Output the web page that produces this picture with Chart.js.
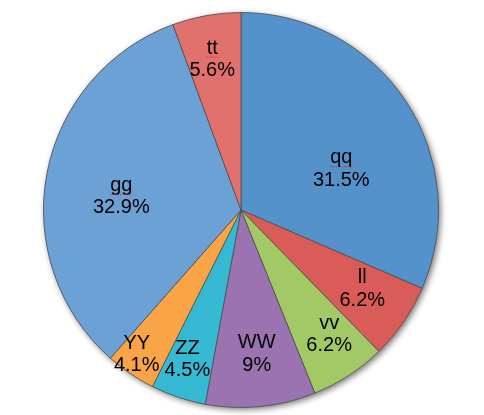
<!DOCTYPE html>
<html><head><meta charset="utf-8">
<script src="https://cdn.jsdelivr.net/npm/chart.js@4/dist/chart.umd.min.js"></script>
<style>html,body{margin:0;padding:0;background:#fff;overflow:hidden;}</style>
</head><body>
<canvas id="c" width="484" height="415"></canvas>
<script>
// ---- data ----
const categories = ['qq', 'll', 'vv', 'WW', 'ZZ', 'YY', 'gg', 'tt'];
const shares = [31.5, 6.2, 6.2, 9, 4.5, 4.1, 32.9, 5.6];
const percentLabels = ['31.5%', '6.2%', '6.2%', '9%', '4.5%', '4.1%', '32.9%', '5.6%'];

// ---- styles / label placement (not data) ----
const sliceColors = ['#5592CB', '#D95C58', '#A3C966', '#9A73B0', '#36B9D3', '#FAA448', '#6BA1D5', '#E0716D'];
const labelRadiusFrac = [0.55, 0.73, 0.77, 0.73, 0.80, 0.90, 0.61, 0.78];
const labelAngleShiftDeg = [10.7, -1.8, -2.3, -0.5, 1.3, 1.9, -3.9, -0.7];
const squiggled = ['qq', 'gg', 'tt'];

const shadowPlugin = {
  id: 'shadow',
  beforeDatasetsDraw(chart) {
    const arc = chart.getDatasetMeta(0).data[0];
    if (!arc) return;
    const {x, y, outerRadius} = arc.getProps(['x', 'y', 'outerRadius'], true);
    const ctx = chart.ctx;
    ctx.save();
    ctx.shadowColor = 'rgba(0,0,0,0.55)';
    ctx.shadowBlur = 6;
    ctx.shadowOffsetX = 2;
    ctx.shadowOffsetY = 2;
    ctx.fillStyle = '#888';
    ctx.beginPath();
    ctx.arc(x, y, outerRadius, 0, Math.PI * 2);
    ctx.fill();
    ctx.restore();
  }
};

const labelPlugin = {
  id: 'sliceLabels',
  afterDatasetsDraw(chart) {
    const ctx = chart.ctx;
    const meta = chart.getDatasetMeta(0);
    ctx.save();
    ctx.font = '20px "Liberation Sans", Arial, Helvetica, sans-serif';
    ctx.textAlign = 'center';
    ctx.textBaseline = 'alphabetic';
    ctx.fillStyle = '#000';
    meta.data.forEach((arc, i) => {
      const p = arc.getProps(['x', 'y', 'startAngle', 'endAngle', 'outerRadius'], true);
      const mid = (p.startAngle + p.endAngle) / 2 + labelAngleShiftDeg[i] * Math.PI / 180;
      const r = p.outerRadius * labelRadiusFrac[i];
      const cx = p.x + Math.cos(mid) * r;
      const cy = p.y + Math.sin(mid) * r;
      const name = categories[i];
      ctx.fillText(name, cx, cy - 5);
      ctx.fillText(percentLabels[i], cx, cy + 17.5);
      if (squiggled.includes(name)) {
        const w = ctx.measureText(name).width;
        ctx.save();
        ctx.strokeStyle = '#e02020';
        ctx.lineWidth = 1;
        ctx.setLineDash([1, 1]);
        ctx.beginPath();
        ctx.moveTo(cx - w / 2, cy - 1.5);
        ctx.lineTo(cx + w / 2, cy - 1.5);
        ctx.stroke();
        ctx.restore();
      }
    });
    ctx.restore();
  }
};

new Chart(document.getElementById('c'), {
  type: 'pie',
  data: {
    labels: categories,
    datasets: [{
      data: shares,
      backgroundColor: sliceColors,
      borderColor: 'rgba(75,75,75,0.75)',
      borderWidth: 1
    }]
  },
  options: {
    responsive: false,
    animation: false,
    layout: { padding: { top: 12, bottom: 7, left: 0, right: 2 } },
    plugins: {
      legend: { display: false },
      tooltip: { enabled: false }
    }
  },
  plugins: [shadowPlugin, labelPlugin]
});
</script>
</body></html>
